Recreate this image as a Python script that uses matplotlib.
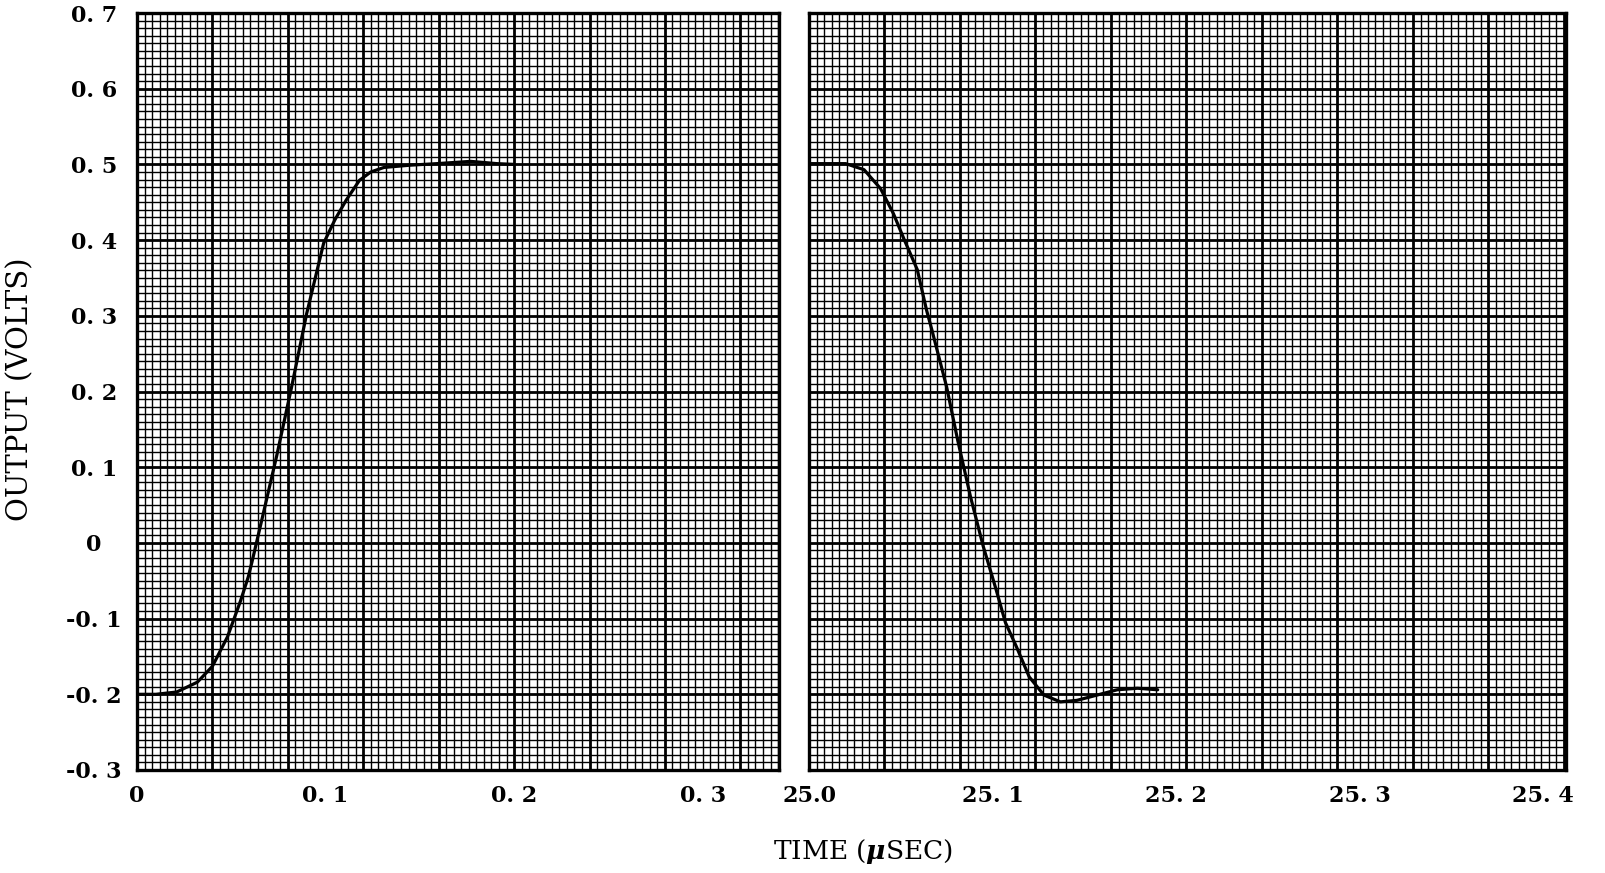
import numpy as np
import matplotlib
matplotlib.use("Agg")
import matplotlib.pyplot as plt

# rise (left panel) ---------------------------------------------
t_rise = [0.000, 0.010, 0.021, 0.032, 0.040, 0.048, 0.055, 0.059, 0.061,
          0.067, 0.074, 0.082, 0.090, 0.099, 0.105, 0.111, 0.118, 0.124,
          0.131, 0.145, 0.159, 0.177, 0.191, 0.200]
v_rise = [-0.200, -0.200, -0.197, -0.184, -0.163, -0.124, -0.076, -0.045, -0.025,
          0.039, 0.114, 0.206, 0.303, 0.396, 0.427, 0.453, 0.479, 0.490,
          0.496, 0.499, 0.501, 0.504, 0.501, 0.500]

# fall (right panel) --------------------------------------------
t_fall = [25.000, 25.020, 25.030, 25.039, 25.046, 25.052, 25.059, 25.064, 25.067,
          25.075, 25.081, 25.088, 25.095, 25.102, 25.107, 25.113, 25.120, 25.128,
          25.137, 25.146, 25.157, 25.168, 25.179, 25.190]
v_fall = [0.501, 0.501, 0.493, 0.468, 0.435, 0.400, 0.361, 0.308, 0.281,
          0.206, 0.136, 0.061, -0.005, -0.062, -0.105, -0.137, -0.177, -0.201,
          -0.210, -0.208, -0.201, -0.194, -0.192, -0.194]

y_ticks = [-0.3, -0.2, -0.1, 0.0, 0.1, 0.2, 0.3, 0.4, 0.5, 0.6, 0.7]
y_labels = ["-0. 3", "-0. 2", "-0. 1", "0", "0. 1", "0. 2", "0. 3", "0. 4", "0. 5", "0. 6", "0. 7"]
x1_ticks = [0.0, 0.1, 0.2, 0.3]
x1_labels = ["0", "0. 1", "0. 2", "0. 3"]
x2_ticks = [25.0, 25.1, 25.2, 25.3, 25.4]
x2_labels = ["25.0", "25. 1", "25. 2", "25. 3", "25. 4"]

plt.rcParams['font.family'] = ['DejaVu Serif']
plt.rcParams['mathtext.fontset'] = 'dejavuserif'

fig = plt.figure(figsize=(16.05, 8.73), dpi=100)
ax1 = fig.add_axes([137/1605, 103/873, 642/1605, 757/873])
ax2 = fig.add_axes([809/1605, 103/873, 757/1605, 757/873])


def graph_paper(ax, x0, x1, step):
    # square ruled paper: fine lines every tenth, heavy every major square
    xs = x0 + step/10*np.arange(int(round((x1-x0)/(step/10)))+1)
    ys = -0.3 + 0.01*np.arange(101)
    tx = ax.get_xaxis_transform()
    ty = ax.get_yaxis_transform()
    for i, x in enumerate(xs):
        lw = 2.0 if i % 10 == 0 else 1.0
        ax.vlines(x, 0, 1, transform=tx, color='black', lw=lw, zorder=1)
    for i, y in enumerate(ys):
        lw = 2.0 if i % 10 == 0 else 1.0
        ax.hlines(y, 0, 1, transform=ty, color='black', lw=lw, zorder=1)
    ax.set_xlim(x0, x1)
    ax.set_ylim(-0.3, 0.7)
    for s in ax.spines.values():
        s.set_linewidth(2.4)


graph_paper(ax1, 0.0, 0.3405, 0.04)
graph_paper(ax2, 25.0, 25.4125, 0.04114)

ax1.plot(t_rise, v_rise, color='black', lw=2.3, solid_capstyle='round', zorder=3)
ax2.plot(t_fall, v_fall, color='black', lw=2.3, solid_capstyle='round', zorder=3)

ax1.set_yticks(y_ticks)
ax1.set_yticklabels(y_labels, fontsize=16, fontweight='bold', ha='center')
ax1.tick_params(axis='y', length=0, pad=31)
ax1.set_xticks(x1_ticks)
ax1.set_xticklabels(x1_labels, fontsize=16, fontweight='bold')
ax1.tick_params(axis='x', length=0, pad=11)

ax2.set_yticks([])
ax2.set_xticks(x2_ticks)
ax2.set_xticklabels(x2_labels, fontsize=16, fontweight='bold')
ax2.tick_params(axis='x', length=0, pad=11)

fig.text(20/1605, 1-389/873, "OUTPUT (VOLTS)", rotation=90, fontsize=21,
         ha='center', va='center')
fig.text(863/1605, 1-852/873, r"TIME ($\boldsymbol{\mu}$SEC)", fontsize=19,
         ha='center', va='center')

fig.savefig("out.png", dpi=100, facecolor='white')
